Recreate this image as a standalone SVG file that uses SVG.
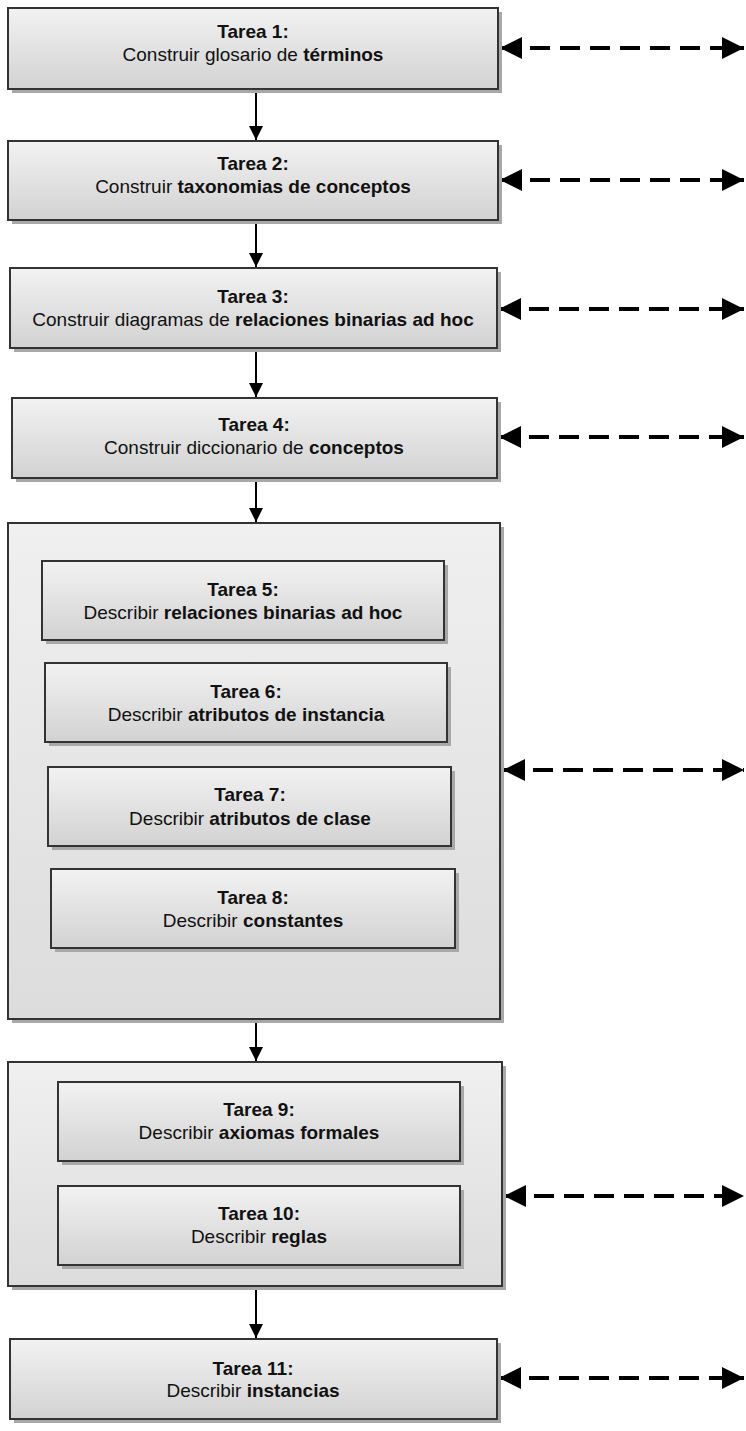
<svg xmlns="http://www.w3.org/2000/svg" width="746" height="1431" viewBox="0 0 746 1431">
<defs>
<linearGradient id="gBox" x1="0" y1="0" x2="0" y2="1">
<stop offset="0" stop-color="#f2f2f2"/>
<stop offset="1" stop-color="#d2d2d2"/>
</linearGradient>
<linearGradient id="gBig" x1="0" y1="0" x2="0" y2="1">
<stop offset="0" stop-color="#f0f0f0"/>
<stop offset="1" stop-color="#dcdcdc"/>
</linearGradient>
<marker id="tri" viewBox="0 0 10 10" refX="10" refY="5" markerWidth="14" markerHeight="15" markerUnits="userSpaceOnUse" orient="auto">
<path d="M0,0 L10,5 L0,10 Z" fill="#000"/>
</marker>
<marker id="bigTri" viewBox="0 0 10 10" refX="10" refY="5" markerWidth="22" markerHeight="22" markerUnits="userSpaceOnUse" orient="auto-start-reverse">
<path d="M0,0 L10,5 L0,10 Z" fill="#000"/>
</marker>
</defs>
<style>
.box{fill:url(#gBox);stroke:#333;stroke-width:2}
.big{fill:url(#gBig);stroke:#333;stroke-width:2}
.sh{fill:#a8a8a8}
text{font-family:"Liberation Sans",Arial,sans-serif;font-size:19px;fill:#111;text-anchor:middle}
.b{font-weight:bold}
.flow{stroke:#000;stroke-width:2;fill:none;marker-end:url(#tri)}
.dash{stroke:#000;stroke-width:4;fill:none;stroke-dasharray:20 10;marker-start:url(#bigTri);marker-end:url(#bigTri)}
</style>

<g id="connectors">
<path class="flow" d="M256,89 V140"/>
<path class="flow" d="M256,220 V267"/>
<path class="flow" d="M256,348 V397"/>
<path class="flow" d="M256,478 V522"/>
<path class="flow" d="M256,1019 V1061"/>
<path class="flow" d="M256,1286 V1338"/>
<path class="dash" d="M500,48 H744"/>
<path class="dash" d="M500,180 H744"/>
<path class="dash" d="M499,309 H744"/>
<path class="dash" d="M499,437 H744"/>
<path class="dash" d="M503,770 H744"/>
<path class="dash" d="M504,1196 H744"/>
<path class="dash" d="M499,1378 H744"/>
</g>

<g id="t1">
<rect class="sh" x="12" y="12" width="490" height="81"/>
<rect class="box" x="8" y="8" width="490" height="81"/>
<text x="253" y="38" class="b">Tarea 1:</text>
<text x="253" y="61">Construir glosario de <tspan class="b">términos</tspan></text>
</g>
<g id="t2">
<rect class="sh" x="12" y="145" width="490" height="79"/>
<rect class="box" x="8" y="141" width="490" height="79"/>
<text x="253" y="170" class="b">Tarea 2:</text>
<text x="253" y="193">Construir <tspan class="b">taxonomias de conceptos</tspan></text>
</g>
<g id="t3">
<rect class="sh" x="14" y="272" width="487" height="80"/>
<rect class="box" x="10" y="268" width="487" height="80"/>
<text x="253" y="303" class="b">Tarea 3:</text>
<text x="253" y="326">Construir diagramas de <tspan class="b">relaciones binarias ad hoc</tspan></text>
</g>
<g id="t4">
<rect class="sh" x="16" y="402" width="485" height="80"/>
<rect class="box" x="12" y="398" width="485" height="80"/>
<text x="254" y="431" class="b">Tarea 4:</text>
<text x="254" y="454">Construir diccionario de <tspan class="b">conceptos</tspan></text>
</g>

<g id="grupo1">
<rect class="sh" x="12" y="527" width="492" height="496"/>
<rect class="big" x="8" y="523" width="492" height="496"/>
</g>
<g id="t5">
<rect class="sh" x="46" y="565" width="402" height="79"/>
<rect class="box" x="42" y="561" width="402" height="79"/>
<text x="243" y="596" class="b">Tarea 5:</text>
<text x="243" y="619">Describir <tspan class="b">relaciones binarias ad hoc</tspan></text>
</g>
<g id="t6">
<rect class="sh" x="49" y="667" width="402" height="79"/>
<rect class="box" x="45" y="663" width="402" height="79"/>
<text x="246" y="698" class="b">Tarea 6:</text>
<text x="246" y="721">Describir <tspan class="b">atributos de instancia</tspan></text>
</g>
<g id="t7">
<rect class="sh" x="52" y="771" width="403" height="79"/>
<rect class="box" x="48" y="767" width="403" height="79"/>
<text x="250" y="801" class="b">Tarea 7:</text>
<text x="250" y="825">Describir <tspan class="b">atributos de clase</tspan></text>
</g>
<g id="t8">
<rect class="sh" x="55" y="873" width="404" height="79"/>
<rect class="box" x="51" y="869" width="404" height="79"/>
<text x="253" y="904" class="b">Tarea 8:</text>
<text x="253" y="927">Describir <tspan class="b">constantes</tspan></text>
</g>

<g id="grupo2">
<rect class="sh" x="12" y="1066" width="494" height="224"/>
<rect class="big" x="8" y="1062" width="494" height="224"/>
</g>
<g id="t9">
<rect class="sh" x="62" y="1086" width="402" height="79"/>
<rect class="box" x="58" y="1082" width="402" height="79"/>
<text x="259" y="1116" class="b">Tarea 9:</text>
<text x="259" y="1139">Describir <tspan class="b">axiomas formales</tspan></text>
</g>
<g id="t10">
<rect class="sh" x="62" y="1190" width="402" height="79"/>
<rect class="box" x="58" y="1186" width="402" height="79"/>
<text x="259" y="1220" class="b">Tarea 10:</text>
<text x="259" y="1243">Describir <tspan class="b">reglas</tspan></text>
</g>

<g id="t11">
<rect class="sh" x="14" y="1343" width="487" height="80"/>
<rect class="box" x="10" y="1339" width="487" height="80"/>
<text x="253" y="1375" class="b">Tarea 11:</text>
<text x="253" y="1397">Describir <tspan class="b">instancias</tspan></text>
</g>
</svg>
